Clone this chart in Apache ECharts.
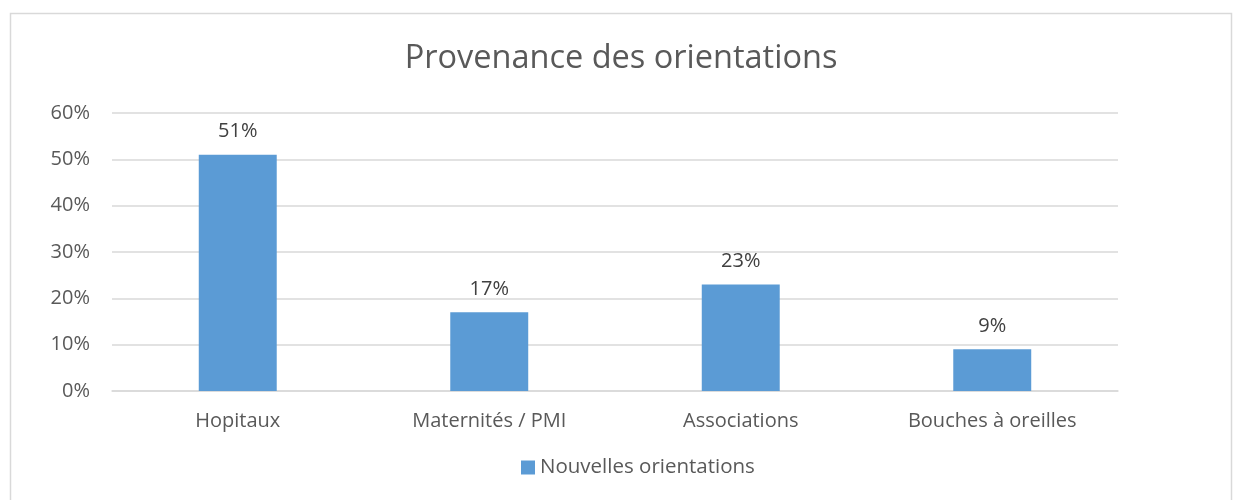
<!DOCTYPE html>
<html>
<head>
<meta charset="utf-8">
<script src="https://cdn.jsdelivr.net/npm/echarts@6/dist/echarts.min.js"></script>
<style>
  html, body { margin: 0; padding: 0; background: #fff; }
  #chart { width: 1242px; height: 500px; }
</style>
</head>
<body>
<div id="chart"></div>
<script>
var categories = ['Hopitaux', 'Maternités / PMI', 'Associations', 'Bouches à oreilles'];
var values = [51, 17, 23, 9];
var yTicks = [0, 10, 20, 30, 40, 50, 60];
var seriesName = 'Nouvelles orientations';

var chart = echarts.init(document.getElementById('chart'));
var fontFam = '"Open Sans", "Liberation Sans", sans-serif';

var option = {
    animation: false,
    graphic: [{
        type: 'rect',
        shape: { x: 10.5, y: 13.5, width: 1221, height: 500 },
        style: { fill: 'none', stroke: '#d9d9d9', lineWidth: 1.5 },
        silent: true
    }],
    title: {
        text: 'Provenance des orientations',
        left: 'center',
        top: 37,
        textStyle: { fontFamily: fontFam, fontSize: 32.5, fontWeight: 'normal', color: '#595959' }
    },
    legend: {
        data: [seriesName],
        bottom: 17,
        left: 516,
        itemWidth: 14,
        itemHeight: 14,
        itemGap: 6,
        icon: 'rect',
        textStyle: { fontFamily: fontFam, fontSize: 20.5, color: '#595959' }
    },
    grid: { left: 112, right: 124, top: 113, bottom: 109, containLabel: false },
    xAxis: {
        type: 'category',
        data: categories,
        axisTick: { show: false },
        axisLine: { lineStyle: { color: '#d9d9d9', width: 1.5 } },
        axisLabel: { fontFamily: fontFam, fontSize: 20, color: '#595959', margin: 20 }
    },
    yAxis: {
        type: 'value',
        min: yTicks[0],
        max: yTicks[yTicks.length - 1],
        interval: 10,
        axisLine: { show: false },
        axisTick: { show: false },
        splitLine: { lineStyle: { color: '#d9d9d9', width: 1.5 } },
        axisLabel: {
            fontFamily: fontFam, fontSize: 20, color: '#595959', margin: 22,
            formatter: function (v) { return v + '%'; }
        }
    },
    series: [{
        name: seriesName,
        type: 'bar',
        data: values,
        barWidth: '31%',
        itemStyle: { color: '#5b9bd5' },
        label: {
            show: true,
            position: 'top',
            distance: 13,
            fontFamily: fontFam,
            fontSize: 20,
            color: '#404040',
            formatter: function (p) { return p.value + '%'; }
        }
    }]
};

chart.setOption(option);
</script>
</body>
</html>
